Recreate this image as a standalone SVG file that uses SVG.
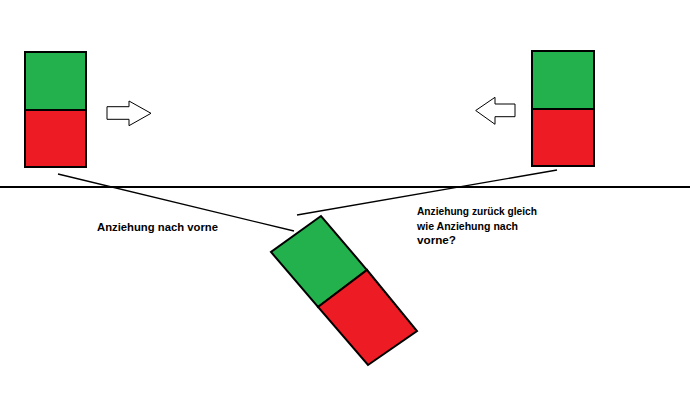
<svg xmlns="http://www.w3.org/2000/svg" width="690" height="402" viewBox="0 0 690 402">
<style>
.g{fill:#22B14C;stroke:#000;stroke-width:2}
.r{fill:#ED1C24;stroke:#000;stroke-width:2}
.arr{fill:#fff;stroke:#000;stroke-width:1}
.ln{stroke:#000;stroke-width:1.3;fill:none}
.t{font-family:"Liberation Sans",Arial,sans-serif;font-weight:bold;font-size:11px;fill:#000}
</style>
<rect width="690" height="402" fill="#fff"/>
<g id="ground"><line x1="0" y1="187" x2="690" y2="187" stroke="#000" stroke-width="2"/></g>
<g id="magnet-left">
<rect class="g" x="25" y="52" width="61" height="58"/>
<rect class="r" x="25" y="110" width="61" height="57"/>
</g>
<g id="magnet-right">
<rect class="g" x="532" y="51" width="62" height="58"/>
<rect class="r" x="532" y="109" width="62" height="57"/>
</g>
<g id="magnet-tilted">
<polygon class="g" points="321,216 271,252 318,307 367,270"/>
<polygon class="r" points="318,307 367,270 417,331 368,365"/>
</g>
<g id="arrow-right"><polygon class="arr" points="107,106.7 129,106.7 129,101 151,113.3 129,125.7 129,119.3 107,119.3"/></g>
<g id="arrow-left"><polygon class="arr" points="515,104 495,104 495,97.3 475.7,110.5 495,124.3 495,116.7 515,116.7"/></g>
<g id="connectors">
<line class="ln" x1="58" y1="174" x2="294" y2="231"/>
<line class="ln" x1="297" y1="215" x2="557" y2="170"/>
</g>
<g id="label-left"><text class="t" x="97" y="231" textLength="121" lengthAdjust="spacingAndGlyphs">Anziehung nach vorne</text></g>
<g id="label-right">
<text class="t" x="417" y="215" textLength="120" lengthAdjust="spacingAndGlyphs">Anziehung zurück gleich</text>
<text class="t" x="417" y="229.5" textLength="101" lengthAdjust="spacingAndGlyphs">wie Anziehung nach</text>
<text class="t" x="417" y="244" textLength="39" lengthAdjust="spacingAndGlyphs">vorne?</text>
</g>
</svg>
